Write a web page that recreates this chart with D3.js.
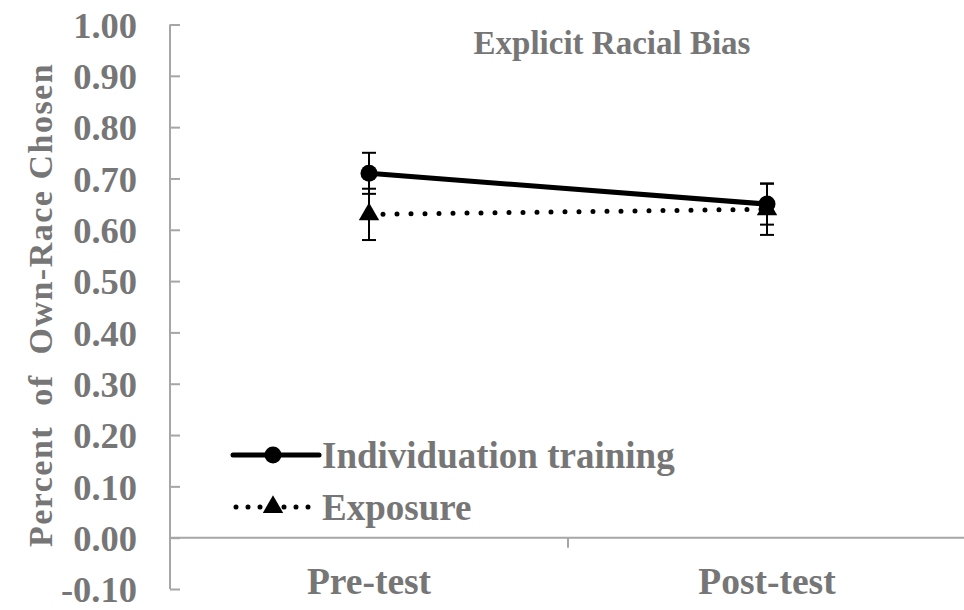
<!DOCTYPE html>
<html lang="en">
<head>
<meta charset="UTF-8">
<title>Explicit Racial Bias</title>
<script src="https://cdn.jsdelivr.net/npm/d3@7"></script>
<style>
    body { margin: 0; background: #fff; }
    text { font-family: "Liberation Serif", "Times New Roman", serif; font-weight: bold; fill: #767676; }
    .axis path, .axis line { stroke: #a6a6a6; stroke-width: 2; }
</style>
</head>
<body>
<svg id="chart"></svg>
<script>
// values
const phases = ["Pre-test", "Post-test"];
const seriesNames = ["Individuation training", "Exposure"];
const individuation = [0.71, 0.65];
const individuationErr = [0.04, 0.04];
const exposure = [0.63, 0.64];
const exposureErr = [0.05, 0.05];
const yTicks = [-0.10, 0.00, 0.10, 0.20, 0.30, 0.40, 0.50, 0.60, 0.70, 0.80, 0.90, 1.00];

const width = 964, height = 610;
const mLeft = 170, mRight = 966, mTop = 24.5, mBottom = 589;

const svg = d3.select("#chart").attr("width", width).attr("height", height);

const x = d3.scaleBand().domain(phases).range([mLeft, mRight]);
const y = d3.scaleLinear().domain([-0.10, 1.00]).range([mBottom, mTop]);

// y axis, ticks point inwards
svg.append("g")
    .attr("class", "axis")
    .attr("transform", `translate(${mLeft},0)`)
    .call(d3.axisLeft(y).tickValues(yTicks).tickSize(-10).tickPadding(33).tickFormat(d => d.toFixed(2)))
    .call(g => g.select(".domain").attr("d", `M0,${mTop}V${mBottom}`))
    .selectAll("text")
    .attr("font-size", 36.5)
    .attr("dy", "0.35em");

// x axis at zero
svg.append("g")
    .attr("class", "axis")
    .attr("transform", `translate(0,${y(0)})`)
    .call(g => g.append("path").attr("d", `M${mLeft},0H${width}`).attr("fill", "none"))
    .call(g => g.append("line").attr("x1", x("Post-test")).attr("x2", x("Post-test")).attr("y1", 0).attr("y2", 10));

svg.selectAll(".xlab")
    .data(phases)
    .enter().append("text")
    .attr("class", "xlab")
    .attr("x", d => x(d) + x.bandwidth() / 2)
    .attr("y", 594)
    .attr("text-anchor", "middle")
    .attr("font-size", 37.5)
    .text(d => d);

// axis title
svg.append("text")
    .attr("transform", `translate(52,305) rotate(-90)`)
    .attr("text-anchor", "middle")
    .attr("font-size", 34)
    .attr("letter-spacing", 1.5)
    .style("white-space", "pre")
    .text("Percent  of  Own-Race Chosen");

svg.append("text")
    .attr("x", 612)
    .attr("y", 54)
    .attr("text-anchor", "middle")
    .attr("font-size", 33)
    .text("Explicit Racial Bias");

const cx = d => x(d) + x.bandwidth() / 2;
const line = d3.line().x((d, i) => cx(phases[i])).y(d => y(d));

// error bars
function errorBars(vals, errs) {
    const g = svg.append("g").attr("stroke", "#000").attr("stroke-width", 2);
    vals.forEach((v, i) => {
        const px = cx(phases[i]);
        g.append("line").attr("x1", px).attr("x2", px).attr("y1", y(v - errs[i])).attr("y2", y(v + errs[i]));
        [v - errs[i], v + errs[i]].forEach(e => {
            g.append("line").attr("x1", px - 7).attr("x2", px + 7).attr("y1", y(e)).attr("y2", y(e));
        });
    });
}
errorBars(exposure, exposureErr);
errorBars(individuation, individuationErr);

const triangle = d3.symbol().type(d3.symbolTriangle).size(180);

// exposure series
svg.append("path")
    .datum(exposure)
    .attr("d", line)
    .attr("fill", "none")
    .attr("stroke", "#000")
    .attr("stroke-width", 5)
    .attr("stroke-linecap", "round")
    .attr("stroke-dasharray", "0 14");
svg.selectAll(".tri")
    .data(exposure)
    .enter().append("path")
    .attr("class", "tri")
    .attr("transform", (d, i) => `translate(${cx(phases[i])},${y(d)})`)
    .attr("d", triangle)
    .attr("fill", "#000");

// individuation series
svg.append("path")
    .datum(individuation)
    .attr("d", line)
    .attr("fill", "none")
    .attr("stroke", "#000")
    .attr("stroke-width", 5);
svg.selectAll(".dot")
    .data(individuation)
    .enter().append("circle")
    .attr("class", "dot")
    .attr("cx", (d, i) => cx(phases[i]))
    .attr("cy", d => y(d))
    .attr("r", 8.5)
    .attr("fill", "#000");

// legend
const legend = svg.append("g").attr("transform", "translate(233,0)");
const legendRows = [
    { name: seriesNames[0], y: 455, dash: null, mark: "circle" },
    { name: seriesNames[1], y: 507, dash: "0 12", mark: "triangle" }
];
legendRows.forEach(r => {
    legend.append("line")
        .attr("x1", r.dash ? 3 : 0).attr("x2", r.dash ? 84 : 86).attr("y1", r.y).attr("y2", r.y)
        .attr("stroke", "#000").attr("stroke-width", 5)
        .attr("stroke-linecap", "round")
        .attr("stroke-dasharray", r.dash);
    if (r.mark == "circle") {
        legend.append("circle").attr("cx", 40).attr("cy", r.y).attr("r", 8.5).attr("fill", "#000");
    } else {
        legend.append("path").attr("transform", `translate(40,${r.y})`).attr("d", triangle).attr("fill", "#000");
    }
    legend.append("text")
        .attr("x", 89)
        .attr("y", r.y + 13)
        .attr("font-size", 37)
        .text(r.name);
});
</script>
</body>
</html>
